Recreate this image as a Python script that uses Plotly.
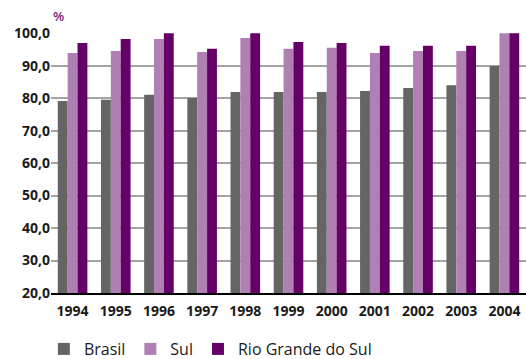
import plotly.graph_objects as go

# Annual coverage rates (%) by region
years = ["1994", "1995", "1996", "1997", "1998", "1999", "2000", "2001", "2002", "2003", "2004"]
brasil = [79.1, 79.5, 81.0, 80.0, 81.9, 81.9, 81.9, 82.2, 83.1, 84.0, 89.9]
sul = [93.9, 94.5, 98.2, 94.2, 98.5, 95.2, 95.5, 93.9, 94.5, 94.5, 100.0]
rio_grande_do_sul = [97.0, 98.2, 100.0, 95.2, 100.0, 97.3, 97.0, 96.1, 96.1, 96.1, 100.0]

series = [
    ("Brasil", brasil, "#656565"),
    ("Sul", sul, "#b07fb4"),
    ("Rio Grande do Sul", rio_grande_do_sul, "#650066"),
]

fig = go.Figure()
for name, vals, color in series:
    fig.add_trace(go.Bar(x=years, y=vals, name=name, marker=dict(color=color, line=dict(width=0))))

fig.update_layout(
    width=526,
    height=359,
    margin=dict(l=51, r=0, t=33, b=66, autoexpand=False),
    paper_bgcolor="white",
    plot_bgcolor="white",
    barmode="group",
    bargap=0.315,
    bargroupgap=0,
    separators=",.",
    font=dict(family="Open Sans", color="#1a1a1a"),
    showlegend=True,
    legend=dict(
        orientation="h",
        x=-0.015,
        xanchor="left",
        y=-0.15,
        yanchor="top",
        font=dict(size=16, color="#1a1a1a"),
        itemwidth=30,
    ),
    xaxis=dict(
        showline=True,
        linecolor="black",
        linewidth=2,
        ticks="",
        ticklabelstandoff=4,
        tickfont=dict(size=14, weight=700),
        showgrid=False,
    ),
    yaxis=dict(
        range=[20, 100.05],
        dtick=10,
        tick0=20,
        tickformat=".1f",
        showgrid=True,
        gridcolor="#a3a3a3",
        gridwidth=2,
        zeroline=False,
        ticks="",
        tickfont=dict(size=14, weight=700),
    ),
    annotations=[
        dict(
            text="%",
            xref="paper",
            yref="paper",
            x=0.0,
            y=1.0,
            xanchor="left",
            yanchor="bottom",
            yshift=6,
            showarrow=False,
            font=dict(size=13, color="#7a1a7a", weight=600),
        )
    ],
)

fig.write_html("out.html")
